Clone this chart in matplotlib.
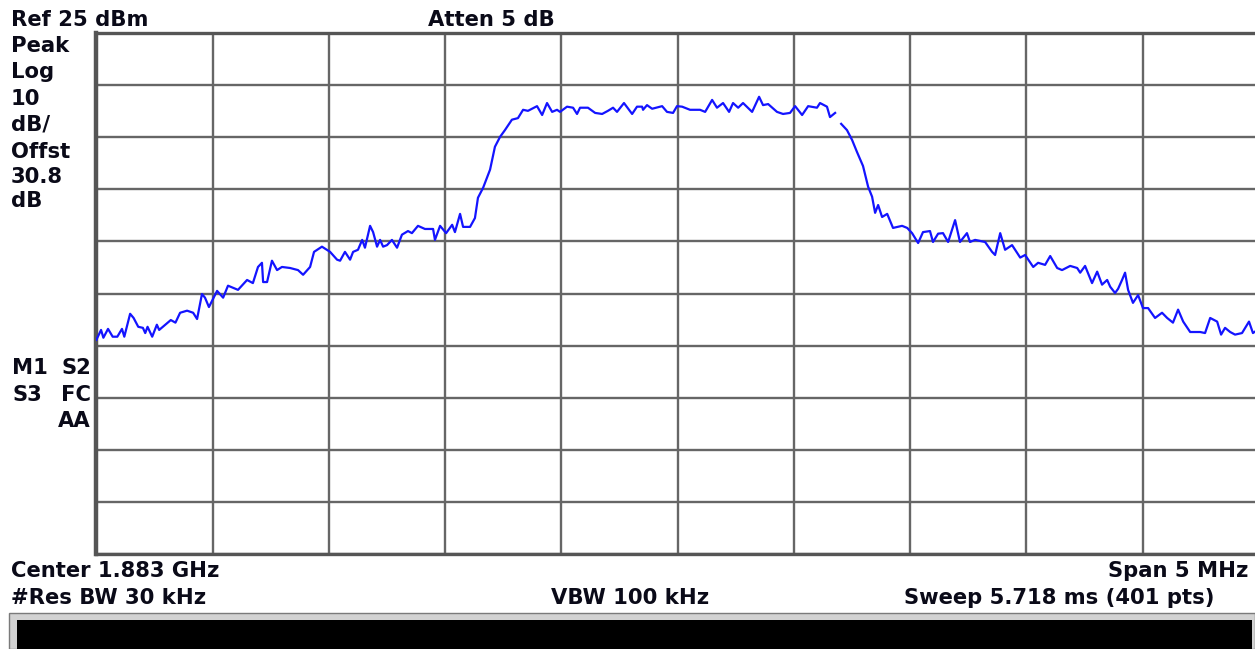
import numpy as np
import matplotlib
matplotlib.use("Agg")
import matplotlib.pyplot as plt
from matplotlib.patches import Rectangle

# Spectrum trace: frequency offset from centre (MHz) and level (dBm)
offset_mhz = [
    -2.50, -2.48, -2.47, -2.45, -2.43, -2.41, -2.39, -2.38, -2.355, -2.34,
    -2.32, -2.30, -2.29, -2.28, -2.26, -2.24, -2.23, -2.18, -2.16, -2.14,
    -2.11, -2.084, -2.067, -2.046, -2.033, -2.016, -1.981, -1.955, -1.934, -1.891,
    -1.852, -1.827, -1.805, -1.788, -1.783, -1.766, -1.745, -1.723, -1.702, -1.667,
    -1.633, -1.611, -1.581, -1.564, -1.530, -1.495, -1.465, -1.452, -1.431, -1.409,
    -1.396, -1.375, -1.357, -1.345, -1.323, -1.310, -1.293, -1.280, -1.267, -1.250,
    -1.229, -1.207, -1.186, -1.160, -1.143, -1.117, -1.087, -1.052, -1.044, -1.022,
    -0.996, -0.970, -0.958, -0.936, -0.923, -0.893, -0.872, -0.859, -0.837, -0.807,
    -0.786, -0.764, -0.743, -0.713, -0.687, -0.665, -0.644, -0.605, -0.583, -0.562,
    -0.540, -0.519, -0.506, -0.476, -0.450, -0.433, -0.420, -0.386, -0.355, -0.325,
    -0.300, -0.278, -0.261, -0.231, -0.196, -0.175, -0.153, -0.149, -0.132, -0.110,
    -0.067, -0.046, -0.020, -0.003, 0.019, 0.053, 0.096, 0.118, 0.148, 0.169,
    0.195, 0.221, 0.238, 0.260, 0.281, 0.320, 0.350, 0.367, 0.389, 0.427,
    0.453, 0.483, 0.505, 0.535, 0.561, 0.599, 0.612, 0.642, 0.655, 0.677,
    0.690, 0.703, 0.728, 0.750, 0.771, 0.797, 0.819, 0.836, 0.849, 0.862,
    0.879, 0.901, 0.926, 0.965, 0.987, 1.008, 1.034, 1.055, 1.085, 1.098,
    1.120, 1.141, 1.163, 1.193, 1.214, 1.244, 1.257, 1.279, 1.322, 1.352,
    1.365, 1.387, 1.408, 1.438, 1.460, 1.473, 1.494, 1.529, 1.550, 1.580,
    1.602, 1.632, 1.653, 1.688, 1.718, 1.731, 1.752, 1.782, 1.804, 1.825,
    1.847, 1.860, 1.881, 1.894, 1.911, 1.924, 1.937, 1.958, 1.980, 2.001,
    2.023, 2.053, 2.083, 2.105, 2.130, 2.152, 2.174, 2.204, 2.247, 2.268,
    2.290, 2.320, 2.337, 2.354, 2.376, 2.397, 2.427, 2.457, 2.474, 2.50,
]

level_dbm = [
    -33.9, -32.0, -33.5, -31.8, -33.3, -33.3, -31.8, -33.3, -28.9, -29.7,
    -31.4, -31.6, -32.6, -31.4, -33.3, -31.0, -32.0, -30.1, -30.6, -28.7,
    -28.3, -28.7, -29.9, -25.1, -25.8, -27.6, -24.5, -25.8, -23.5, -24.3,
    -22.4, -23.0, -19.9, -19.1, -22.8, -22.8, -18.7, -20.5, -19.9, -20.1,
    -20.5, -21.4, -19.9, -17.0, -16.0, -17.0, -18.5, -18.7, -17.0, -18.5,
    -17.0, -16.6, -14.7, -16.2, -12.0, -13.2, -16.0, -14.7, -16.0, -15.7,
    -14.7, -16.2, -13.7, -13.0, -13.4, -12.0, -12.6, -12.6, -14.7, -12.0,
    -13.4, -11.8, -13.2, -9.7, -12.2, -12.2, -10.5, -6.6, -4.7, -1.2,
    3.2, 5.1, 6.4, 8.4, 8.7, 10.3, 10.1, 11.0, 9.3, 11.6,
    9.9, 10.3, 9.9, 10.9, 10.7, 9.5, 10.7, 10.7, 9.7, 9.5,
    10.1, 10.7, 9.9, 11.6, 9.5, 10.9, 10.9, 10.3, 11.2, 10.5,
    11.0, 9.9, 9.7, 11.0, 10.9, 10.3, 10.3, 9.9, 12.2, 10.7,
    11.6, 9.9, 11.6, 10.7, 11.6, 9.9, 12.8, 11.2, 11.4, 9.9,
    9.5, 9.7, 11.0, 9.3, 11.0, 10.7, 11.6, 10.9, 8.9, 9.7,
    np.nan, 7.6, 6.4, 4.5, 2.2, -0.5, -4.5, -6.4, -9.5, -8.0,
    -10.3, -9.7, -12.4, -12.0, -12.4, -13.4, -15.3, -13.2, -13.0, -15.1,
    -13.5, -13.4, -15.1, -10.9, -15.1, -13.4, -15.1, -14.7, -15.1, -17.0,
    -17.6, -13.4, -16.6, -15.7, -17.2, -18.1, -17.6, -19.9, -19.1, -19.5,
    -17.8, -20.1, -20.5, -19.7, -20.1, -21.0, -19.7, -23.0, -20.8, -23.3,
    -22.4, -23.7, -24.9, -24.1, -22.4, -21.0, -24.3, -26.8, -25.3, -27.8,
    -27.8, -29.7, -28.7, -29.7, -30.6, -28.1, -30.4, -32.4, -32.4, -32.6,
    -29.7, -30.4, -32.9, -31.6, -32.4, -32.9, -32.6, -30.4, -32.6, -31.8,
]

ref_level_dbm = 25
db_per_div = 10
span_mhz = 5

header_labels = ["Ref 25 dBm", "Atten 5 dB"]
left_labels = ["Peak", "Log", "10", "dB/", "Offst", "30.8", "dB"]
status_labels = [("M1", "S2"), ("S3", "FC"), ("", "AA")]
footer_left = ["Center 1.883 GHz", "#Res BW 30 kHz"]
footer_mid = "VBW 100 kHz"
footer_right = ["Span 5 MHz", "Sweep 5.718 ms (401 pts)"]

W, H = 1255, 649
fig = plt.figure(figsize=(W / 100, H / 100), dpi=100, facecolor="white")


def fx(x):
    return x / W


def fy(y):
    return 1 - y / H


# Graticule area
x0, x1, y0, y1 = 96.4, 1259.0, 33.3, 553.7
ax = fig.add_axes([fx(x0), fy(y1), fx(x1) - fx(x0), fy(y0) - fy(y1)])
ax.set_xlim(-span_mhz / 2, span_mhz / 2)
ax.set_ylim(ref_level_dbm - 10 * db_per_div, ref_level_dbm)
ax.set_xticks(np.arange(-2.5, 2.51, 0.5))
ax.set_yticks(np.arange(ref_level_dbm - 10 * db_per_div, ref_level_dbm + 1, db_per_div))
ax.tick_params(length=0, labelbottom=False, labelleft=False)
ax.grid(True, color="#666666", linewidth=1.7)
ax.set_axisbelow(True)
for side, lw in (("left", 3.2), ("top", 2.4), ("bottom", 2.4), ("right", 1.2)):
    ax.spines[side].set_color("#555555")
    ax.spines[side].set_linewidth(lw)

ax.plot(offset_mhz, level_dbm, color="#1414ff", linewidth=1.6, zorder=3)

font = dict(family=["DejaVu Sans"], weight="bold", size=15.2, color="#0a0a18")

fig.text(fx(11), fy(26), header_labels[0], ha="left", va="baseline", **font)
fig.text(fx(428), fy(26), header_labels[1], ha="left", va="baseline", **font)

for lab, base in zip(left_labels, [51.7, 78.0, 105.0, 130.7, 157.7, 182.7, 206.7]):
    fig.text(fx(11), fy(base), lab, ha="left", va="baseline", **font)

for (a, b), base in zip(status_labels, [374.3, 401.0, 427.3]):
    if a:
        fig.text(fx(12), fy(base), a, ha="left", va="baseline", **font)
    fig.text(fx(91), fy(base), b, ha="right", va="baseline", **font)

fig.text(fx(11), fy(577.3), footer_left[0], ha="left", va="baseline", **font)
fig.text(fx(11), fy(604.0), footer_left[1], ha="left", va="baseline", **font)
fig.text(fx(630), fy(604.0), footer_mid, ha="center", va="baseline", **font)
fig.text(fx(1248), fy(577.3), footer_right[0], ha="right", va="baseline", **font)
fig.text(fx(1214), fy(604.0), footer_right[1], ha="right", va="baseline", **font)

# Message panel along the bottom edge
fig.patches.append(Rectangle((fx(9), fy(649)), fx(1255) - fx(9), fy(612.5) - fy(649),
                             transform=fig.transFigure, facecolor="#d2d2d2",
                             edgecolor="#7a7a7a", linewidth=1.0, zorder=1))
fig.patches.append(Rectangle((fx(17), fy(649)), fx(1251.5) - fx(17), fy(620) - fy(649),
                             transform=fig.transFigure, facecolor="black",
                             edgecolor="none", zorder=2))

fig.savefig("out.png", dpi=100, facecolor="white")
